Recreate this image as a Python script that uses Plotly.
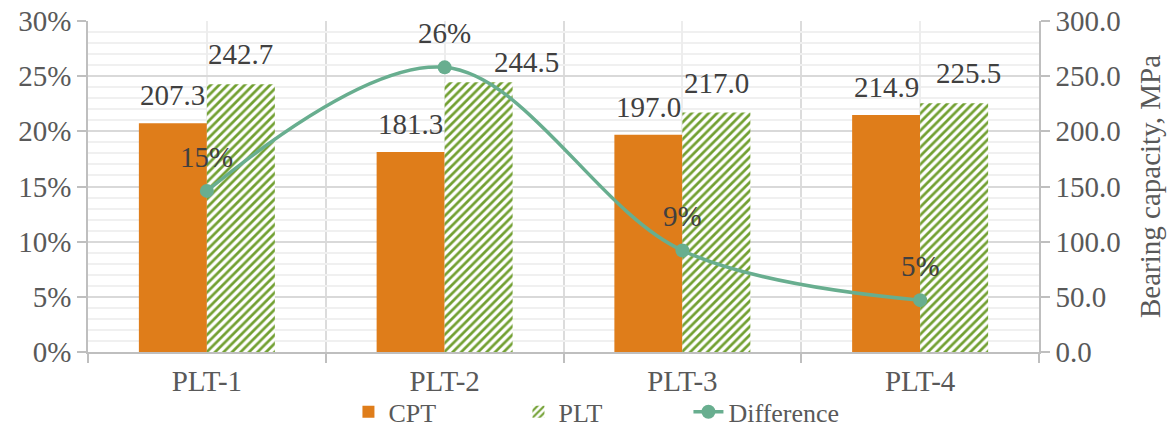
import plotly.graph_objects as go

categories = ["PLT-1", "PLT-2", "PLT-3", "PLT-4"]
cpt_values = [207.3, 181.3, 197.0, 214.9]
plt_values = [242.7, 244.5, 217.0, 225.5]
difference = [0.146, 0.258, 0.092, 0.047]

# label nudges (pixels) as placed in the reference
plt_label_xshift = [0, 48, 0, 14]
plt_label_yshift = [12, 2, 12, 12]

xpos = list(range(len(categories)))
FONT = "Liberation Serif, Times New Roman, serif"
TXT = "#595959"
LBL = "#404040"
BAR_OFF = 0.143

fig = go.Figure()
fig.add_trace(go.Bar(
    x=xpos, y=cpt_values, name="CPT",
    marker=dict(color="#DF7D1A", line=dict(width=0)),
    yaxis="y",
))
fig.add_trace(go.Bar(
    x=xpos, y=plt_values, name="PLT",
    marker=dict(color="white", line=dict(width=0),
                pattern=dict(shape="/", fgcolor="#72A032", bgcolor="white",
                             size=6, solidity=0.45, fillmode="replace", fgopacity=1)),
    yaxis="y",
))
fig.add_trace(go.Scatter(
    x=xpos, y=difference, name="Difference", mode="lines+markers",
    line=dict(color="#68AE8F", width=3.5, shape="spline", smoothing=1.0),
    marker=dict(size=14, color="#68AE8F"),
    cliponaxis=False, yaxis="y2",
))

ann = []
for i, v in enumerate(cpt_values):
    ann.append(dict(x=xpos[i] - BAR_OFF, y=v, xref="x", yref="y", text=f"{v:.1f}",
                    showarrow=False, yanchor="bottom", yshift=10,
                    font=dict(family=FONT, size=29, color=LBL)))
for i, v in enumerate(plt_values):
    ann.append(dict(x=xpos[i] + BAR_OFF, y=v, xref="x", yref="y", text=f"{v:.1f}",
                    showarrow=False, yanchor="bottom", yshift=plt_label_yshift[i],
                    xshift=plt_label_xshift[i],
                    font=dict(family=FONT, size=29, color=LBL)))
for i, v in enumerate(difference):
    ann.append(dict(x=xpos[i], y=v, xref="x", yref="y2", text=f"{round(v*100)}%",
                    showarrow=False, yanchor="bottom", yshift=16,
                    font=dict(family=FONT, size=29, color=LBL)))

fig.update_layout(
    width=1176, height=429,
    margin=dict(l=88, r=137, t=21, b=77, autoexpand=False),
    paper_bgcolor="white", plot_bgcolor="white",
    font=dict(family=FONT, size=29, color=TXT),
    barmode="group", bargap=0.428, bargroupgap=0,
    showlegend=True,
    annotations=ann,
    legend=dict(orientation="h", x=0.542, xanchor="center", y=-0.11, yanchor="top",
                entrywidth=125, entrywidthmode="pixels",
                font=dict(family=FONT, size=26, color=TXT),
                itemwidth=30, tracegroupgap=0, bgcolor="rgba(0,0,0,0)"),
    xaxis=dict(
        range=[-0.5, 3.5], tickmode="array", tickvals=xpos, ticktext=categories,
        ticks="", showgrid=True, gridcolor="#EDEDED", gridwidth=1.5,
        showline=True, linecolor="#BFBFBF", linewidth=1.5,
        tickfont=dict(family=FONT, size=29, color=TXT), ticklabelstandoff=2,
        minor=dict(tickvals=[-0.5, 0.5, 1.5, 2.5, 3.5], ticks="outside", ticklen=9,
                   tickcolor="#BFBFBF", tickwidth=1.5, showgrid=True,
                   gridcolor="#DCDCDC", gridwidth=1.5),
        zeroline=False, automargin=False,
    ),
    yaxis=dict(
        side="right", range=[0, 300], tickmode="linear", tick0=0, dtick=50,
        tickformat=".1f", ticks="outside", ticklen=9, tickcolor="#BFBFBF", tickwidth=1.5,
        showline=True, linecolor="#BFBFBF", linewidth=1.5,
        showgrid=True, gridcolor="#D9D9D9", gridwidth=1.5,
        minor=dict(dtick=10, showgrid=True, gridcolor="#F0F0F0", gridwidth=1.5),
        zeroline=False, automargin=False, ticklabeloverflow="allow",
        tickfont=dict(family=FONT, size=29, color=TXT),
        title=dict(text="Bearing capacity, MPa", font=dict(family=FONT, size=29, color=TXT), standoff=20),
    ),
    yaxis2=dict(
        overlaying="y", side="left", range=[0, 0.3], tickmode="linear", tick0=0, dtick=0.05,
        tickformat=".0%", ticks="outside", ticklen=9, tickcolor="#BFBFBF", tickwidth=1.5,
        showline=True, linecolor="#BFBFBF", linewidth=1.5,
        showgrid=False, zeroline=False, automargin=False, ticklabeloverflow="allow",
        tickfont=dict(family=FONT, size=29, color=TXT),
    ),
)

fig.write_html("out.html", config={"displayModeBar": False},
               post_script="document.body.style.margin='0';")
